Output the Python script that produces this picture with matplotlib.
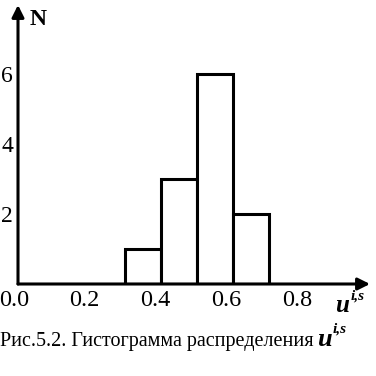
import matplotlib
matplotlib.use("Agg")
import matplotlib.pyplot as plt
from matplotlib.transforms import ScaledTranslation

bin_left = [0.3, 0.4, 0.5, 0.6]
counts = [1, 3, 6, 2]
bin_width = 0.1
x_ticks = [0.0, 0.2, 0.4, 0.6, 0.8]
x_tick_labels = ["0.0", "0.2", "0.4", "0.6", "0.8"]
y_ticks = [2, 4, 6]
y_tick_labels = ["2", "4", "6"]
caption = "Рис.5.2. Гистограмма распределения"

W = 376
fig = plt.figure(figsize=(3.76, 3.76), dpi=100)
ax = fig.add_axes([18 / W, 92 / W, 352 / W, 279 / W])
ax.set_xlim(0, 352 / 358)
ax.set_ylim(0, 279 / 35)
for s in ax.spines.values():
    s.set_visible(False)

ax.bar(bin_left, counts, width=bin_width, align='edge', color='white',
       edgecolor='black', linewidth=2.2, zorder=2)

serif = ['Liberation Serif', 'DejaVu Serif']
ax.set_xticks(x_ticks)
ax.set_xticklabels(x_tick_labels, family=serif, fontsize=17.5)
ax.set_yticks(y_ticks)
ax.set_yticklabels(y_tick_labels, family=serif, fontsize=17)
ax.tick_params(axis='x', length=0, pad=4.5)
ax.tick_params(axis='y', length=0, pad=3.5)
for i, lab in enumerate(ax.get_xticklabels()):
    shift = -(4 + i * 0.8) / 100
    lab.set_transform(lab.get_transform() + ScaledTranslation(shift, 0, fig.dpi_scale_trans))

x_end = 352 / 358
y_end = 279 / 35
ax.annotate('', xy=(x_end, 0), xytext=(0, 0),
            arrowprops=dict(arrowstyle='-|>', lw=2.2, color='black', mutation_scale=18, shrinkA=0, shrinkB=0),
            annotation_clip=False, zorder=3)
ax.annotate('', xy=(0, y_end), xytext=(0, 0),
            arrowprops=dict(arrowstyle='-|>', lw=2.2, color='black', mutation_scale=18, shrinkA=0, shrinkB=0),
            annotation_clip=False, zorder=3)

# N label
fig.text(30 / W, 1 - 25 / W, 'N', family=serif, fontweight='bold', fontsize=17, va='baseline', ha='left')

# axis label u^{i,s}
fig.text(335 / W, 1 - 312 / W, 'u', family=serif, fontweight='bold', style='italic', fontsize=18, va='baseline', ha='left')
fig.text(351 / W, 1 - 300 / W, 'i,s', family=serif, fontweight='bold', style='italic', fontsize=11, va='baseline', ha='left')

# caption
fig.text(0 / W, 1 - 346 / W, caption, family=serif, fontsize=14.5, va='baseline', ha='left')
fig.text(317 / W, 1 - 346 / W, 'u', family=serif, fontweight='bold', style='italic', fontsize=19, va='baseline', ha='left')
fig.text(333 / W, 1 - 333 / W, 'i,s', family=serif, fontweight='bold', style='italic', fontsize=11, va='baseline', ha='left')

fig.savefig('out.png', dpi=100)
